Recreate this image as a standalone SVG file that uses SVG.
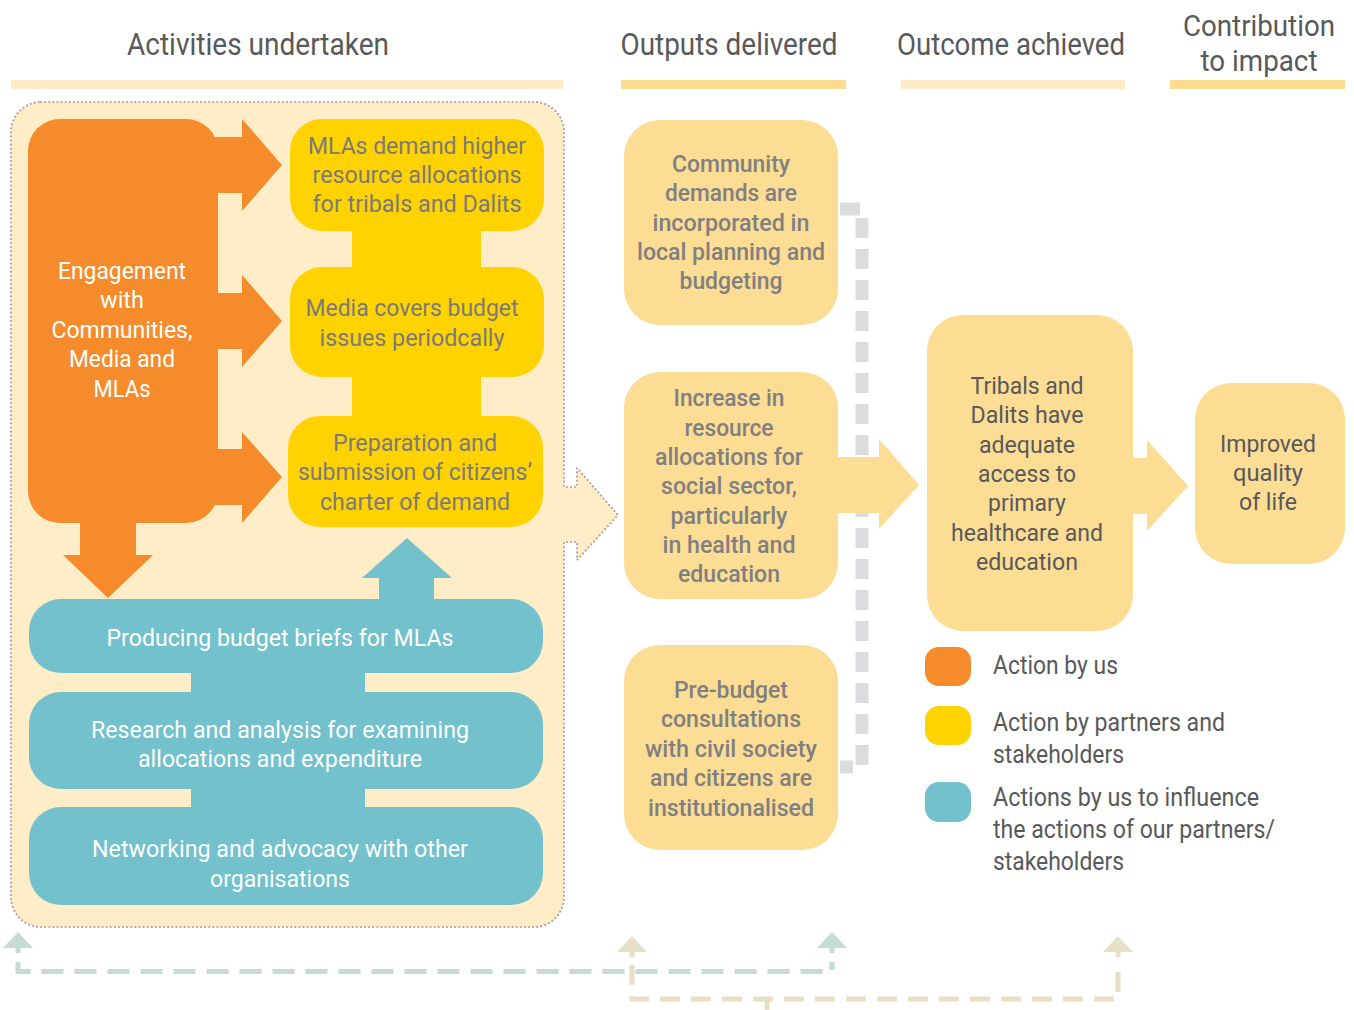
<svg xmlns="http://www.w3.org/2000/svg" width="1354" height="1010" viewBox="0 0 1354 1010">
<style>
text{font-family:Roboto,"Liberation Sans",sans-serif;text-anchor:middle;}
.hd{font-size:32px;fill:#58595B;}
.hs{font-size:30px;fill:#58595B;}
.w{font-size:24px;fill:#FFFFFF;}
.g{font-size:24px;fill:#7A7A7C;}
.o{font-size:24px;fill:#808082;font-weight:500;}
.d{font-size:24px;fill:#58595B;}
.lg{font-size:25px;fill:#58595B;text-anchor:start;}
.orange{fill:#F68B2C;}
.yellow{fill:#FFD200;}
.blue{fill:#72C1CC;}
.peach{fill:#FDDC93;}
.barL{fill:#FEEBC4;}
.barD{fill:#FDDC8F;}
</style>
<rect width="1354" height="1010" fill="#FFFFFF"/>

<g id="headers">
<text class="hd" x="258" y="55" textLength="262" lengthAdjust="spacingAndGlyphs">Activities undertaken</text>
<text class="hd" x="729" y="55" textLength="217" lengthAdjust="spacingAndGlyphs">Outputs delivered</text>
<text class="hd" x="1011" y="55" textLength="228" lengthAdjust="spacingAndGlyphs">Outcome achieved</text>
<text class="hs" x="1259" y="36" textLength="152" lengthAdjust="spacingAndGlyphs">Contribution</text>
<text class="hs" x="1259" y="71" textLength="117" lengthAdjust="spacingAndGlyphs">to impact</text>
<rect class="barL" x="11" y="80" width="552" height="9"/>
<rect class="barD" x="621" y="80" width="225" height="9"/>
<rect class="barL" x="901" y="80" width="224" height="9"/>
<rect class="barD" x="1170" y="80" width="175" height="9"/>
</g>

<g id="activities-panel">
<path d="M41 102 H534 A30 30 0 0 1 564 132 V487 H577 V468 L618 515 L577 560 V542 H564 V897 A30 30 0 0 1 534 927 H41 A30 30 0 0 1 11 897 V132 A30 30 0 0 1 41 102 Z" fill="#FEEDC6" stroke="#B9A59C" stroke-width="2.2" stroke-dasharray="0.1 4" stroke-linecap="round"/>
</g>

<g id="connectors">
<path d="M840 209 H862 V767 H840" fill="none" stroke="#DCDCDE" stroke-width="13" stroke-dasharray="20 11"/>
<polygon class="orange" points="210,137 242,137 242,119 282,165 242,211 242,193 210,193"/>
<polygon class="orange" points="210,293 242,293 242,275 282,321 242,367 242,349 210,349"/>
<polygon class="orange" points="210,449 242,449 242,432 282,477 242,523 242,505 210,505"/>
<polygon class="orange" points="80,510 136,510 136,555 153,555 108,598 63,555 80,555"/>
<rect class="yellow" x="352" y="225" width="129" height="48"/>
<rect class="yellow" x="352" y="371" width="129" height="51"/>
<polygon class="blue" points="379,605 379,578 362,578 407,538 452,578 434,578 434,605"/>
<rect class="blue" x="191" y="667" width="174" height="31"/>
<rect class="blue" x="191" y="783" width="174" height="30"/>
<polygon class="peach" points="830,457 879,457 879,439 919,485 879,529 879,513 830,513"/>
<polygon class="peach" points="1125,458 1147,458 1147,440 1188,486 1147,531 1147,514 1125,514"/>
<path d="M18 962 V971.5 H832 V962" fill="none" stroke="#C4DCD3" stroke-width="5" stroke-dasharray="22 11"/>
<polygon fill="#C4DCD3" points="18,932 33,948 20.5,948 20.5,953 15.5,953 15.5,948 3,948"/>
<polygon fill="#C4DCD3" points="832,932 847,948 834.5,948 834.5,953 829.5,953 829.5,948 817,948"/>
<path d="M632 965 V999 H1118 V962" fill="none" stroke="#E8E0C6" stroke-width="5" stroke-dasharray="20 11"/>
<line x1="767" y1="999" x2="767" y2="1010" stroke="#E8E0C6" stroke-width="5"/>
<polygon fill="#E8E0C6" points="632,936 647,952 634.5,952 634.5,957 629.5,957 629.5,952 617,952"/>
<polygon fill="#E8E0C6" points="1118,936 1133,952 1120.5,952 1120.5,957 1115.5,957 1115.5,952 1103,952"/>
</g>

<g id="engagement">
<rect class="orange" x="28" y="119" width="190" height="404" rx="32"/>
<text class="w" x="122" y="279" textLength="128" lengthAdjust="spacingAndGlyphs">Engagement</text>
<text class="w" x="122" y="308" textLength="44" lengthAdjust="spacingAndGlyphs">with</text>
<text class="w" x="122" y="338" textLength="141" lengthAdjust="spacingAndGlyphs">Communities,</text>
<text class="w" x="122" y="367" textLength="106" lengthAdjust="spacingAndGlyphs">Media and</text>
<text class="w" x="122" y="397" textLength="57" lengthAdjust="spacingAndGlyphs">MLAs</text>
</g>

<g id="mlas-demand">
<rect class="yellow" x="290" y="119" width="254" height="112" rx="32"/>
<text class="g" x="417" y="154" textLength="218" lengthAdjust="spacingAndGlyphs">MLAs demand higher</text>
<text class="g" x="417" y="183" textLength="209" lengthAdjust="spacingAndGlyphs">resource allocations</text>
<text class="g" x="417" y="212" textLength="209" lengthAdjust="spacingAndGlyphs">for tribals and Dalits</text>
</g>

<g id="media-covers">
<rect class="yellow" x="290" y="267" width="254" height="110" rx="32"/>
<text class="g" x="412" y="316" textLength="213" lengthAdjust="spacingAndGlyphs">Media covers budget</text>
<text class="g" x="412" y="346" textLength="185" lengthAdjust="spacingAndGlyphs">issues periodcally</text>
</g>

<g id="charter">
<rect class="yellow" x="288" y="416" width="255" height="111" rx="32"/>
<text class="g" x="415" y="451" textLength="164" lengthAdjust="spacingAndGlyphs">Preparation and</text>
<text class="g" x="415" y="480" textLength="234" lengthAdjust="spacingAndGlyphs">submission of citizens’</text>
<text class="g" x="415" y="510" textLength="190" lengthAdjust="spacingAndGlyphs">charter of demand</text>
</g>

<g id="budget-briefs">
<rect class="blue" x="29" y="599" width="514" height="74" rx="32"/>
<text class="w" x="280" y="646" textLength="347" lengthAdjust="spacingAndGlyphs">Producing budget briefs for MLAs</text>
</g>

<g id="research">
<rect class="blue" x="29" y="692" width="514" height="97" rx="32"/>
<text class="w" x="280" y="738" textLength="378" lengthAdjust="spacingAndGlyphs">Research and analysis for examining</text>
<text class="w" x="280" y="767" textLength="284" lengthAdjust="spacingAndGlyphs">allocations and expenditure</text>
</g>

<g id="networking">
<rect class="blue" x="29" y="807" width="514" height="98" rx="32"/>
<text class="w" x="280" y="857" textLength="376" lengthAdjust="spacingAndGlyphs">Networking and advocacy with other</text>
<text class="w" x="280" y="887" textLength="140" lengthAdjust="spacingAndGlyphs">organisations</text>
</g>

<g id="output-community">
<rect class="peach" x="624" y="120" width="214" height="205" rx="36"/>
<text class="o" x="731" y="172" textLength="118" lengthAdjust="spacingAndGlyphs">Community</text>
<text class="o" x="731" y="201" textLength="132" lengthAdjust="spacingAndGlyphs">demands are</text>
<text class="o" x="731" y="231" textLength="157" lengthAdjust="spacingAndGlyphs">incorporated in</text>
<text class="o" x="731" y="260" textLength="188" lengthAdjust="spacingAndGlyphs">local planning and</text>
<text class="o" x="731" y="289" textLength="103" lengthAdjust="spacingAndGlyphs">budgeting</text>
</g>

<g id="output-allocations">
<rect class="peach" x="624" y="372" width="214" height="227" rx="36"/>
<text class="o" x="729" y="406" textLength="111" lengthAdjust="spacingAndGlyphs">Increase in</text>
<text class="o" x="729" y="436" textLength="89" lengthAdjust="spacingAndGlyphs">resource</text>
<text class="o" x="729" y="465" textLength="148" lengthAdjust="spacingAndGlyphs">allocations for</text>
<text class="o" x="729" y="494" textLength="136" lengthAdjust="spacingAndGlyphs">social sector,</text>
<text class="o" x="729" y="524" textLength="117" lengthAdjust="spacingAndGlyphs">particularly</text>
<text class="o" x="729" y="553" textLength="133" lengthAdjust="spacingAndGlyphs">in health and</text>
<text class="o" x="729" y="582" textLength="102" lengthAdjust="spacingAndGlyphs">education</text>
</g>

<g id="output-consultations">
<rect class="peach" x="624" y="645" width="214" height="205" rx="36"/>
<text class="o" x="731" y="698" textLength="114" lengthAdjust="spacingAndGlyphs">Pre-budget</text>
<text class="o" x="731" y="727" textLength="140" lengthAdjust="spacingAndGlyphs">consultations</text>
<text class="o" x="731" y="757" textLength="172" lengthAdjust="spacingAndGlyphs">with civil society</text>
<text class="o" x="731" y="786" textLength="162" lengthAdjust="spacingAndGlyphs">and citizens are</text>
<text class="o" x="731" y="816" textLength="166" lengthAdjust="spacingAndGlyphs">institutionalised</text>
</g>

<g id="outcome">
<rect class="peach" x="927" y="315" width="206" height="316" rx="36"/>
<text class="d" x="1027" y="394" textLength="113" lengthAdjust="spacingAndGlyphs">Tribals and</text>
<text class="d" x="1027" y="423" textLength="113" lengthAdjust="spacingAndGlyphs">Dalits have</text>
<text class="d" x="1027" y="453" textLength="96" lengthAdjust="spacingAndGlyphs">adequate</text>
<text class="d" x="1027" y="482" textLength="98" lengthAdjust="spacingAndGlyphs">access to</text>
<text class="d" x="1027" y="511" textLength="78" lengthAdjust="spacingAndGlyphs">primary</text>
<text class="d" x="1027" y="541" textLength="152" lengthAdjust="spacingAndGlyphs">healthcare and</text>
<text class="d" x="1027" y="570" textLength="102" lengthAdjust="spacingAndGlyphs">education</text>
</g>

<g id="impact">
<rect class="peach" x="1195" y="383" width="150" height="181" rx="36"/>
<text class="d" x="1268" y="452" textLength="96" lengthAdjust="spacingAndGlyphs">Improved</text>
<text class="d" x="1268" y="481" textLength="70" lengthAdjust="spacingAndGlyphs">quality</text>
<text class="d" x="1268" y="510" textLength="58" lengthAdjust="spacingAndGlyphs">of life</text>
</g>

<g id="legend">
<rect class="orange" x="925" y="647" width="46" height="39" rx="14"/>
<rect class="yellow" x="925" y="706" width="46" height="39" rx="14"/>
<rect class="blue" x="925" y="782" width="46" height="40" rx="14"/>
<text class="lg" x="993" y="674" textLength="125" lengthAdjust="spacingAndGlyphs">Action by us</text>
<text class="lg" x="993" y="731" textLength="232" lengthAdjust="spacingAndGlyphs">Action by partners and</text>
<text class="lg" x="993" y="763" textLength="131" lengthAdjust="spacingAndGlyphs">stakeholders</text>
<text class="lg" x="993" y="806" textLength="266" lengthAdjust="spacingAndGlyphs">Actions by us to influence</text>
<text class="lg" x="993" y="838" textLength="282" lengthAdjust="spacingAndGlyphs">the actions of our partners/</text>
<text class="lg" x="993" y="870" textLength="131" lengthAdjust="spacingAndGlyphs">stakeholders</text>
</g>
</svg>
